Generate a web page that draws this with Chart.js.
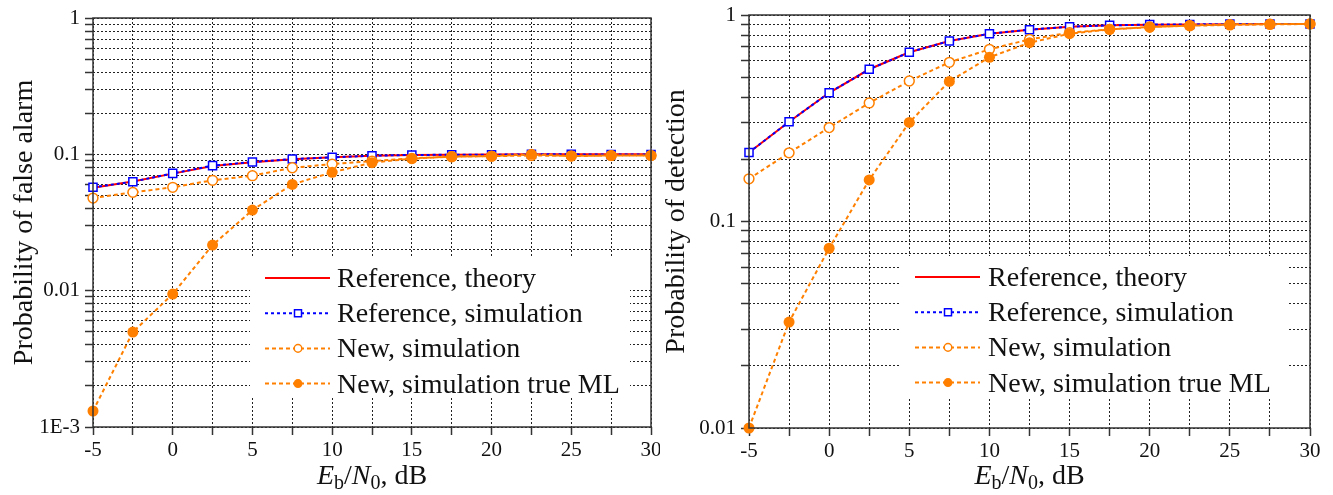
<!DOCTYPE html>
<html>
<head>
<meta charset="utf-8">
<script src="https://cdn.jsdelivr.net/npm/chart.js@4/dist/chart.umd.min.js"></script>
<style>
  body { margin: 0; background: #fff; }
  #wrap { position: relative; width: 1333px; height: 495px; }
  canvas { position: absolute; top: 0; }
  #pfaChart { left: 0; }
  #pdChart { left: 660px; }
</style>
</head>
<body>
<div id="wrap">
  <canvas id="pfaChart" width="660" height="495"></canvas>
  <canvas id="pdChart" width="673" height="495"></canvas>
</div>
<script>
"use strict"

// Eb/N0 grid, dB
const ebno = [-5, -2.5, 0, 2.5, 5, 7.5, 10, 12.5, 15, 17.5, 20, 22.5, 25, 27.5, 30];
const xTickValues = [-5, 0, 5, 10, 15, 20, 25, 30];
const xTickLabels = ['-5', '0', '5', '10', '15', '20', '25', '30'];

// probability of false alarm
const pfaRefTheory = [0.0568, 0.0632, 0.0722, 0.0822, 0.0876, 0.0922, 0.0952, 0.0975, 0.0988, 0.0995, 0.0998, 0.1, 0.1, 0.1, 0.1];
const pfaRefSim    = [0.0573, 0.063, 0.0725, 0.0826, 0.0878, 0.0924, 0.095, 0.0977, 0.099, 0.0992, 0.0993, 0.1, 0.1, 0.0995, 0.0998];
const pfaNewSim    = [0.0478, 0.0526, 0.0573, 0.0645, 0.0697, 0.0797, 0.0848, 0.0892, 0.0935, 0.096, 0.097, 0.098, 0.0975, 0.098, 0.098];
const pfaNewML     = [0.00131, 0.00497, 0.00944, 0.0216, 0.039, 0.0602, 0.0738, 0.0869, 0.093, 0.0964, 0.097, 0.1, 0.097, 0.098, 0.098];
const pfaTicks = [0.001, 0.01, 0.1, 1];
const pfaTickLabels = ['1E-3', '0.01', '0.1', '1'];

// probability of detection
const pdRefTheory = [0.216, 0.304, 0.42, 0.546, 0.66, 0.748, 0.812, 0.849, 0.878, 0.891, 0.898, 0.9, 0.903, 0.905, 0.905];
const pdRefSim    = [0.216, 0.304, 0.42, 0.546, 0.66, 0.748, 0.812, 0.849, 0.878, 0.891, 0.898, 0.9, 0.903, 0.905, 0.905];
const pdNewSim    = [0.161, 0.215, 0.285, 0.375, 0.479, 0.59, 0.682, 0.762, 0.821, 0.852, 0.875, 0.887, 0.895, 0.9, 0.905];
const pdNewML     = [0.01, 0.0326, 0.0742, 0.159, 0.302, 0.477, 0.624, 0.734, 0.812, 0.852, 0.873, 0.89, 0.9, 0.905, 0.905];
const pdTicks = [0.01, 0.1, 1];
const pdTickLabels = ['0.01', '0.1', '1'];

const seriesNames = ['Reference, theory', 'Reference, simulation', 'New, simulation', 'New, simulation true ML'];

const serif = '"Liberation Serif", "Times New Roman", serif';
const orange = 'rgb(255,128,0)';
Chart.defaults.font.family = serif;
Chart.defaults.color = '#000';

function points(ys) {
    return ebno.map((x, i) => ({x: x, y: ys[i]}));
}

function makeDatasets(theory, sim, newSim, newML) {
    return [{
        label: seriesNames[0],
        data: points(theory),
        borderColor: 'rgb(255,0,0)',
        borderWidth: 2,
        pointRadius: 0,
        order: 4,
    }, {
        label: seriesNames[1],
        data: points(sim),
        borderColor: 'rgb(0,0,255)',
        borderDash: [3, 3],
        borderWidth: 2,
        pointStyle: 'rect',
        pointRadius: 5.7,
        pointBackgroundColor: '#fff',
        pointBorderColor: 'rgb(0,0,255)',
        pointBorderWidth: 1.5,
        order: 3,
    }, {
        label: seriesNames[2],
        data: points(newSim),
        borderColor: orange,
        borderDash: [4, 3],
        borderWidth: 2,
        pointStyle: 'circle',
        pointRadius: 4.9,
        pointBackgroundColor: '#fff',
        pointBorderColor: orange,
        pointBorderWidth: 1.5,
        order: 2,
    }, {
        label: seriesNames[3],
        data: points(newML),
        borderColor: orange,
        borderDash: [4, 3],
        borderWidth: 2,
        pointStyle: 'circle',
        pointRadius: 5.5,
        pointBackgroundColor: orange,
        pointBorderColor: orange,
        pointBorderWidth: 0,
        order: 1,
    }];
}

// frame around the plot, boxed legend and the Eb/N0 title
const decorPlugin = {
    id: 'decor',
    afterDraw(chart, args, opts) {
        const ctx = chart.ctx;
        const a = chart.chartArea;
        ctx.save();

        ctx.strokeStyle = '#333';
        ctx.lineWidth = 1.5;
        ctx.setLineDash([]);
        ctx.strokeRect(a.left, a.top, a.right - a.left, a.bottom - a.top);

        // legend
        const lg = opts.legend;
        const bx = a.left + lg.x;
        ctx.fillStyle = '#fff';
        ctx.fillRect(bx, lg.top, lg.w, lg.h);
        const sets = chart.data.datasets;
        sets.forEach((ds, i) => {
            const y = lg.top + lg.firstRow + i * lg.rowGap;
            const sx = bx + 15;
            ctx.strokeStyle = ds.borderColor;
            ctx.lineWidth = 2;
            ctx.setLineDash(ds.borderDash || []);
            ctx.beginPath();
            ctx.moveTo(sx, y);
            ctx.lineTo(sx + 65, y);
            ctx.stroke();
            ctx.setLineDash([]);
            const mx = sx + 33;
            if (ds.pointRadius > 0) {
                ctx.lineWidth = 1.5;
                ctx.strokeStyle = ds.pointBorderColor;
                ctx.fillStyle = ds.pointBackgroundColor;
                ctx.beginPath();
                if (ds.pointStyle === 'rect') {
                    ctx.rect(mx - 3.5, y - 3.5, 7, 7);
                } else {
                    ctx.arc(mx, y, ds.pointBackgroundColor === '#fff' ? 3.8 : 4.5, 0, Math.PI * 2);
                }
                ctx.fill();
                if (ds.pointBorderWidth > 0) ctx.stroke();
            }
            ctx.fillStyle = '#111';
            ctx.font = '28px ' + serif;
            ctx.textAlign = 'left';
            ctx.textBaseline = 'alphabetic';
            ctx.fillText(ds.label, bx + lg.textX, y + 9);
        });

        // x axis title: E_b/N_0, dB
        const parts = [
            {t: 'E', f: 'italic 28px ' + serif, dy: 0},
            {t: 'b', f: '20px ' + serif, dy: 5},
            {t: '/', f: '28px ' + serif, dy: 0},
            {t: 'N', f: 'italic 28px ' + serif, dy: 0},
            {t: '0', f: '20px ' + serif, dy: 5},
            {t: ', dB', f: '28px ' + serif, dy: 0},
        ];
        let total = 0;
        parts.forEach(p => { ctx.font = p.f; p.w = ctx.measureText(p.t).width; total += p.w; });
        let x = (a.left + a.right) / 2 - total / 2;
        ctx.fillStyle = '#111';
        ctx.textAlign = 'left';
        parts.forEach(p => {
            ctx.font = p.f;
            ctx.fillText(p.t, x, opts.titleBaseline + p.dy);
            x += p.w;
        });

        ctx.restore();
    }
};

function logTicks(scale) {
    const lo = Math.round(Math.log10(scale.min));
    const hi = Math.round(Math.log10(scale.max));
    const list = [];
    for (let e = lo; e < hi; e++) {
        for (let m = 1; m <= 9; m++) list.push({value: m * Math.pow(10, e)});
    }
    list.push({value: Math.pow(10, hi)});
    scale.ticks = list;
}

function makeChart(canvasId, cfg) {
    return new Chart(document.getElementById(canvasId), {
        type: 'line',
        data: {datasets: cfg.datasets},
        plugins: [decorPlugin],
        options: {
            responsive: false,
            animation: false,
            events: [],
            layout: {padding: {top: cfg.top, right: cfg.right, left: 0, bottom: 0}},
            elements: {line: {tension: 0, fill: false}},
            datasets: {line: {clip: false}},
            scales: {
                x: {
                    type: 'linear',
                    min: -5,
                    max: 30,
                    grid: {color: '#222', lineWidth: 1, tickLength: 8, tickColor: '#333', tickWidth: 1.5},
                    border: {display: false, dash: [2, 2]},
                    ticks: {
                        stepSize: 2.5,
                        autoSkip: false,
                        maxRotation: 0,
                        padding: 3,
                        font: {size: 21},
                        color: '#111',
                        callback: (v) => {
                            const k = xTickValues.indexOf(v);
                            return k >= 0 ? xTickLabels[k] : '';
                        }
                    },
                    afterFit: (s) => { s.height = cfg.xHeight; s.paddingLeft = 0; s.paddingRight = 0; }
                },
                y: {
                    type: 'logarithmic',
                    min: cfg.yTicks[0],
                    max: cfg.yTicks[cfg.yTicks.length - 1],
                    grid: {color: '#222', lineWidth: 1, tickLength: 8, tickColor: '#333', tickWidth: 1.5},
                    border: {display: false, dash: [2, 2]},
                    afterBuildTicks: logTicks,
                    ticks: {
                        autoSkip: false,
                        padding: 5,
                        font: {size: 21},
                        color: '#111',
                        callback: (v) => {
                            const k = cfg.yTicks.findIndex(t => Math.abs(v - t) / t < 1e-6);
                            return k >= 0 ? cfg.yLabels[k] : '';
                        }
                    },
                    title: {
                        display: true,
                        text: cfg.yTitle,
                        font: {size: 28},
                        color: '#111',
                        padding: {top: cfg.titlePad, bottom: 0}
                    },
                    afterFit: (s) => { s.width = cfg.yWidth; s.paddingTop = 0; s.paddingBottom = 0; }
                }
            },
            plugins: {
                legend: {display: false},
                tooltip: {enabled: false},
                decor: {legend: cfg.legend, titleBaseline: 484}
            }
        }
    });
}

makeChart('pfaChart', {
    datasets: makeDatasets(pfaRefTheory, pfaRefSim, pfaNewSim, pfaNewML),
    yTicks: pfaTicks,
    yLabels: pfaTickLabels,
    yTitle: 'Probability of false alarm',
    top: 18, right: 9, xHeight: 68, yWidth: 93, titlePad: 8,
    legend: {x: 157, top: 256, w: 380, h: 142, firstRow: 22, rowGap: 35.2, textX: 87}
});

makeChart('pdChart', {
    datasets: makeDatasets(pdRefTheory, pdRefSim, pdNewSim, pdNewML),
    yTicks: pdTicks,
    yLabels: pdTickLabels,
    yTitle: 'Probability of detection',
    top: 15, right: 23, xHeight: 67, yWidth: 89, titlePad: 0,
    legend: {x: 151, top: 256, w: 387, h: 142, firstRow: 21, rowGap: 35.2, textX: 88}
});
</script>
</body>
</html>
